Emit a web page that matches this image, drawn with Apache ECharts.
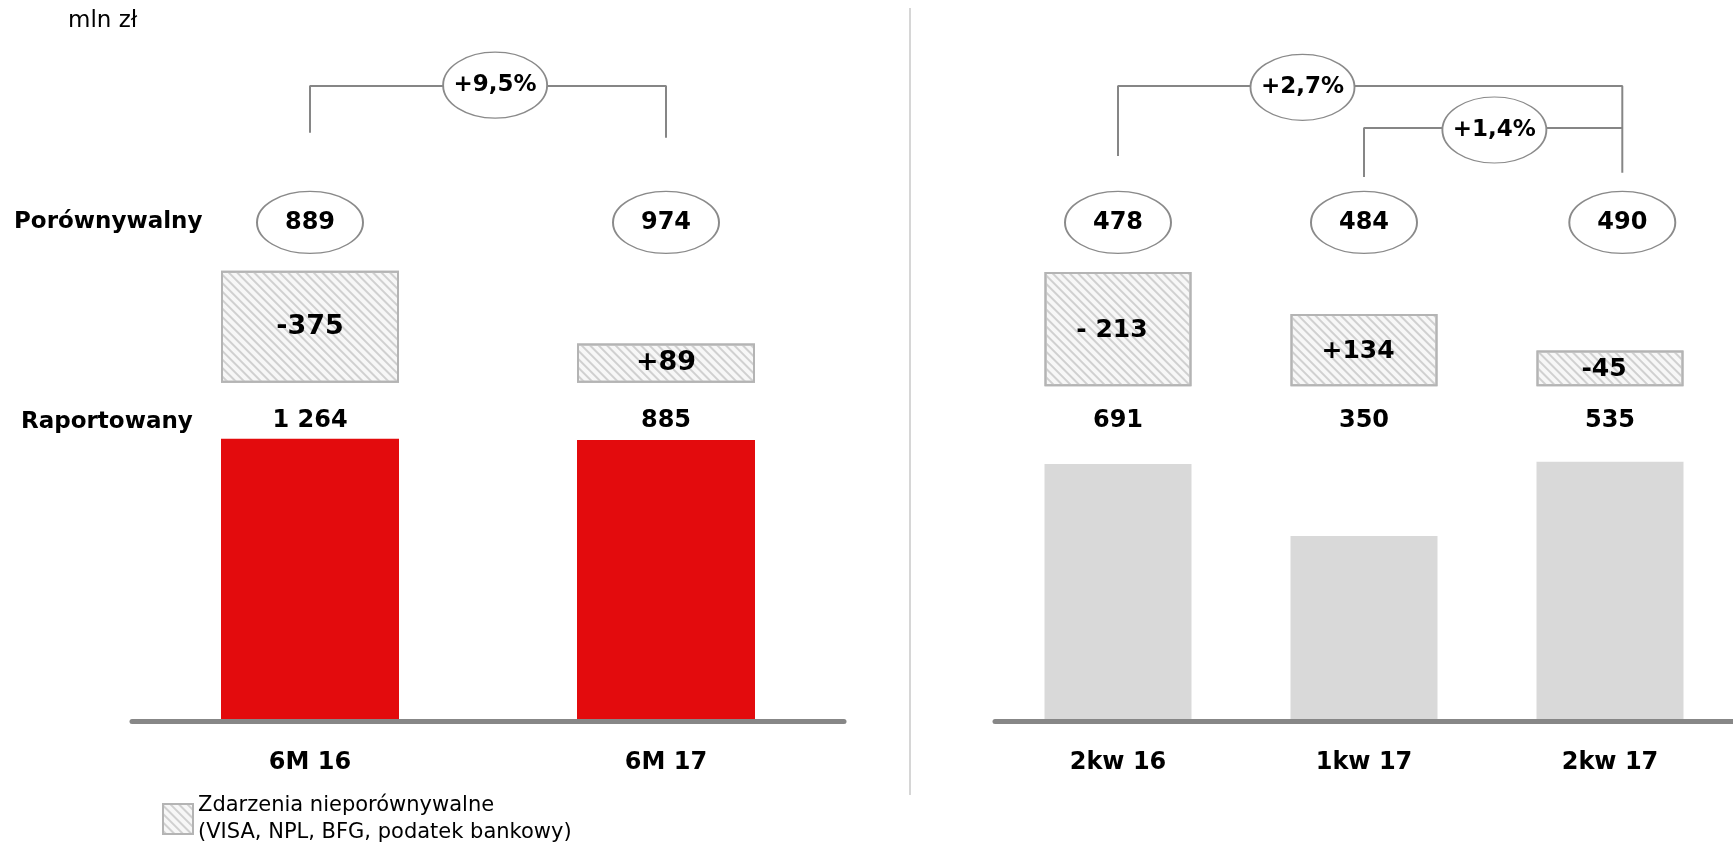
<!DOCTYPE html>
<html>
<head>
<meta charset="utf-8">
<title>Wynik netto</title>
<script src="https://cdn.jsdelivr.net/npm/echarts@6/dist/echarts.min.js"></script>
<style>
  html, body { margin: 0; padding: 0; background: #fff; }
  #chart { width: 1733px; height: 846px; }
</style>
</head>
<body>
<div id="chart"></div>
<script>
// ---- data: half-year panel (left) ----
const catsH = ['6M 16', '6M 17'];
const reportedH = [1264, 885];
const comparableH = [889, 974];
const adjustTextH = ['-375', '+89'];
const changeH = ['+9,5%'];
// bar levels as drawn on the slide (not to scale with the values), 0-100 of plot height
const reportedBarH = [40.4, 40.2];
const adjustBoxH = [16.0, 5.6];

// ---- data: quarterly panel (right) ----
const catsQ = ['2kw 16', '1kw 17', '2kw 17'];
const reportedQ = [691, 350, 535];
const comparableQ = [478, 484, 490];
const adjustTextQ = ['- 213', '+134', '-45'];
const changeQ = ['+2,7%', '+1,4%'];
const reportedBarQ = [36.8, 26.5, 37.1];
const adjustBoxQ = [16.3, 10.3, 5.1];

const adjName = 'Zdarzenia nieporównywalne\n(VISA, NPL, BFG, podatek bankowy)';
const FONT = 'DejaVu Sans';

function fmtThousands(v) {
  return String(v).replace(/\B(?=(\d{3})+(?!\d))/g, ' ');
}

const hatch = {
  color: '#f7f7f7',
  borderColor: '#b4b4b4',
  borderWidth: 2,
  decal: {
    symbol: 'rect',
    symbolSize: 1,
    color: '#d0d0d0',
    dashArrayX: [1, 0],
    dashArrayY: [1.5, 3.5],
    rotation: Math.PI / 4
  }
};

const ellipseStyle = { color: '#fff', borderColor: '#8a8a8a', borderWidth: 1.5, opacity: 1 };

// idx: panel index; bars use category axis idx, overlays use hidden value axis idx + 2
// circleX: where the ellipses sit on the slide (the last one is a bit off-centre in the quarterly panel)
function panelSeries(idx, p) {
  const ax = { xAxisIndex: idx, yAxisIndex: idx };
  const ov = { xAxisIndex: idx + 2, yAxisIndex: idx };
  const list = [];
  list.push(Object.assign({
    type: 'bar', name: 'Raportowany', data: p.reportedBar, barWidth: p.barWidth, barGap: '-100%',
    itemStyle: { color: p.barColor }, silent: true
  }, ax));
  list.push(Object.assign({
    type: 'bar', name: 'base', stack: 'adj' + idx, data: p.reportedBar.map(() => p.base),
    barWidth: p.barWidth, barGap: '-100%', itemStyle: { color: 'transparent' }, silent: true
  }, ax));
  list.push(Object.assign({
    type: 'bar', name: adjName, stack: 'adj' + idx, data: p.adjustBox,
    barWidth: p.barWidth, barGap: '-100%', itemStyle: hatch,
    label: {
      show: true, position: 'inside', offset: idx ? [-6, 1] : [0, 0],
      formatter: d => p.adjustText[d.dataIndex],
      fontFamily: FONT, fontWeight: 'bold', fontSize: idx ? 25 : 27, color: '#000'
    }
  }, ax));
  // reported values on a fixed row
  list.push(Object.assign({
    type: 'scatter', data: p.reported.map((v, i) => [i, 42.9]), symbolSize: 1,
    itemStyle: { color: 'transparent', opacity: 1 }, silent: true,
    label: {
      show: true, position: 'inside', formatter: d => fmtThousands(p.reported[d.dataIndex]),
      fontFamily: FONT, fontWeight: 'bold', fontSize: 24, color: '#000'
    }
  }, ov));
  p.brackets.forEach(b => {
    list.push(Object.assign({
      type: 'line', data: b, symbol: 'none', silent: true, z: 3,
      lineStyle: { color: '#868686', width: 2 }
    }, ov));
  });
  // comparable values in ellipses
  list.push(Object.assign({
    type: 'scatter', data: p.comparable.map((v, i) => [p.circleX[i], 71.3]), symbol: 'circle',
    symbolSize: [106, 62], z: 4, silent: true, itemStyle: ellipseStyle,
    label: {
      show: true, position: 'inside', formatter: d => String(p.comparable[d.dataIndex]),
      fontFamily: FONT, fontWeight: 'bold', fontSize: 24, color: '#000'
    }
  }, ov));
  list.push(Object.assign({
    type: 'scatter', data: p.changes.map(c => [c.x, c.y]), symbol: 'circle',
    symbolSize: [104, 66], z: 4, silent: true, itemStyle: ellipseStyle,
    label: {
      show: true, position: 'inside', formatter: d => p.changes[d.dataIndex].text,
      fontFamily: FONT, fontWeight: 'bold', fontSize: 23, color: '#000'
    }
  }, ov));
  return list;
}

const chart = echarts.init(document.getElementById('chart'));

const xAxisBase = {
  type: 'category',
  z: 5,
  axisLine: { lineStyle: { color: '#878787', width: 5 } },
  axisTick: { show: false },
  axisLabel: { color: '#000', fontFamily: FONT, fontWeight: 'bold', fontSize: 24, margin: 29 }
};

const option = {
  backgroundColor: '#fff',
  animation: false,
  grid: [
    { left: 132, width: 712, top: 21.5, height: 700 },
    { left: 995, width: 738, top: 21.5, height: 700 }
  ],
  xAxis: [
    Object.assign({ gridIndex: 0, data: catsH }, xAxisBase),
    Object.assign({ gridIndex: 1, data: catsQ }, xAxisBase),
    { gridIndex: 0, type: 'value', min: -0.5, max: catsH.length - 0.5, show: false },
    { gridIndex: 1, type: 'value', min: -0.5, max: catsQ.length - 0.5, show: false }
  ],
  yAxis: [
    { gridIndex: 0, type: 'value', min: 0, max: 100, show: false },
    { gridIndex: 1, type: 'value', min: 0, max: 100, show: false }
  ],
  legend: {
    data: [adjName],
    left: 162, top: 792,
    padding: 0,
    icon: 'rect',
    itemWidth: 30, itemHeight: 30,
    selectedMode: false,
    textStyle: { fontFamily: FONT, fontSize: 21, lineHeight: 27, color: '#000' }
  },
  graphic: [
    { type: 'text', x: 68, y: 21, style: { text: 'mln zł', fontFamily: FONT, fontSize: 23, fill: '#000', verticalAlign: 'middle' } },
    { type: 'text', x: 14, y: 222, style: { text: 'Porównywalny', fontFamily: FONT, fontWeight: 'bold', fontSize: 23, fill: '#000', verticalAlign: 'middle' } },
    { type: 'text', x: 21, y: 422, style: { text: 'Raportowany', fontFamily: FONT, fontWeight: 'bold', fontSize: 23, fill: '#000', verticalAlign: 'middle' } },
    { type: 'line', shape: { x1: 910, y1: 8, x2: 910, y2: 795 }, style: { stroke: '#c8c8c8', lineWidth: 1.5 } }
  ],
  series: [].concat(
    panelSeries(0, {
      reported: reportedH, comparable: comparableH, adjustText: adjustTextH,
      reportedBar: reportedBarH, adjustBox: adjustBoxH,
      barColor: '#e30b0d', barWidth: 178, base: 48.4, circleX: [0, 1],
      brackets: [[[0, 84.1], [0, 90.8], [1, 90.8], [1, 83.4]]],
      changes: [{ x: 0.52, y: 90.9, text: changeH[0] }]
    }),
    panelSeries(1, {
      reported: reportedQ, comparable: comparableQ, adjustText: adjustTextQ,
      reportedBar: reportedBarQ, adjustBox: adjustBoxQ,
      barColor: '#d9d9d9', barWidth: 147, base: 47.9, circleX: [0, 1, 2.05],
      brackets: [[[0, 80.8], [0, 90.8], [2.05, 90.8], [2.05, 78.4]],
                 [[1, 77.8], [1, 84.8], [2.05, 84.8]]],
      changes: [{ x: 0.75, y: 90.6, text: changeQ[0] }, { x: 1.53, y: 84.5, text: changeQ[1] }]
    })
  )
};

chart.setOption(option);
</script>
</body>
</html>
